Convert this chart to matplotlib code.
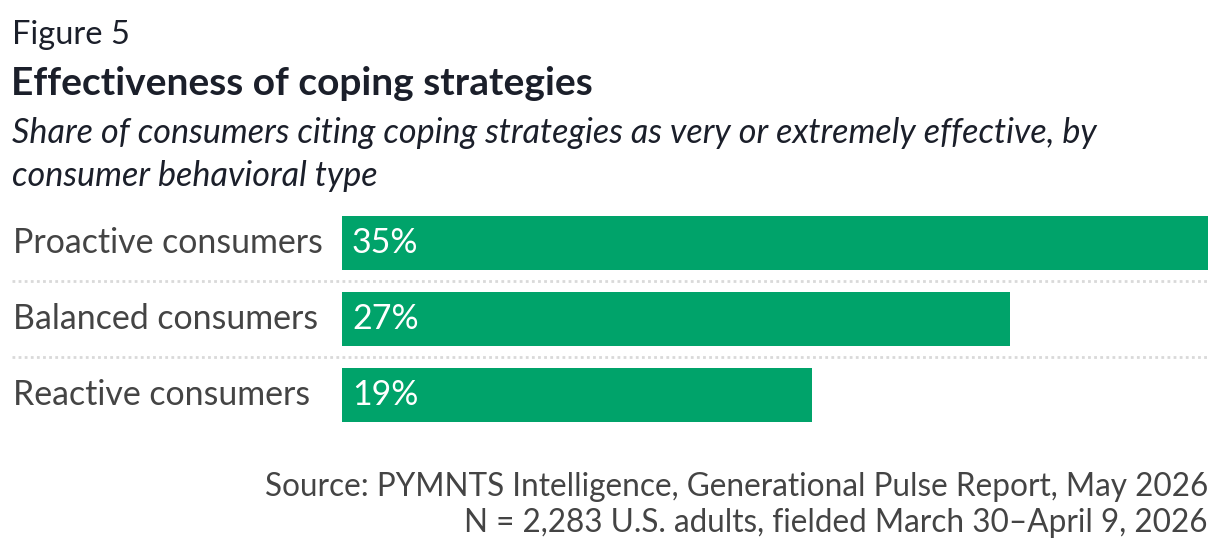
import matplotlib
matplotlib.use("Agg")
import matplotlib.pyplot as plt
from matplotlib.lines import Line2D
from matplotlib.transforms import blended_transform_factory

plt.rcParams['font.family'] = ['Lato', 'DejaVu Sans']

categories = ['Proactive consumers', 'Balanced consumers', 'Reactive consumers']
values = [35, 27, 19]
value_labels = ['35%', '27%', '19%']

green = '#00A36A'
dark = '#1B1F2A'
gray = '#444444'

W, H = 1220, 550
fig = plt.figure(figsize=(W / 100, H / 100), dpi=100)
fig.patch.set_facecolor('white')


def fx(px):
    return px / W


def fy(py):
    return 1 - py / H


ax = fig.add_axes([fx(342), fy(433), fx(1208) - fx(342), fy(205) - fy(433)])
ax.barh(range(len(values)), values, height=0.71, color=green)
ax.set_xlim(0, 35)
ax.set_ylim(len(values) - 0.5, -0.5)
ax.axis('off')

# x in figure coords, y in data coords
trans = blended_transform_factory(fig.transFigure, ax.transData)
for i, (cat, lab) in enumerate(zip(categories, value_labels)):
    ax.text(fx(13), i, cat, color=gray, fontsize=24.4, va='center', ha='left',
            transform=trans)
    ax.text(fx(352), i, lab, color='white', fontsize=24.4, va='center',
            ha='left', transform=trans)

# dotted separators
for y in [0.5 + k for k in range(len(values) - 1)]:
    ax.add_line(Line2D([fx(12), fx(1208)], [y, y], transform=trans,
                       color='#d9d9d9', lw=2.0, linestyle=(0, (1, 1.2)),
                       clip_on=False))

fig.text(fx(12), fy(44), 'Figure 5', fontsize=23.5, color=dark, va='baseline')
fig.text(fx(11), fy(95), 'Effectiveness of coping strategies', fontsize=28,
         fontweight='bold', color=dark, va='baseline')
fig.text(fx(12), fy(143),
         'Share of consumers citing coping strategies as very or extremely effective, by',
         fontsize=24.6, style='italic', color=dark, va='baseline')
fig.text(fx(12), fy(186), 'consumer behavioral type', fontsize=24.6,
         style='italic', color=dark, va='baseline')

fig.text(fx(1208), fy(496),
         'Source: PYMNTS Intelligence, Generational Pulse Report, May 2026',
         fontsize=22.7, color=gray, ha='right', va='baseline')
fig.text(fx(1208), fy(532),
         'N = 2,283 U.S. adults, fielded March 30\u2013April 9, 2026',
         fontsize=22.7, color=gray, ha='right', va='baseline')

fig.savefig('out.png', dpi=100)
